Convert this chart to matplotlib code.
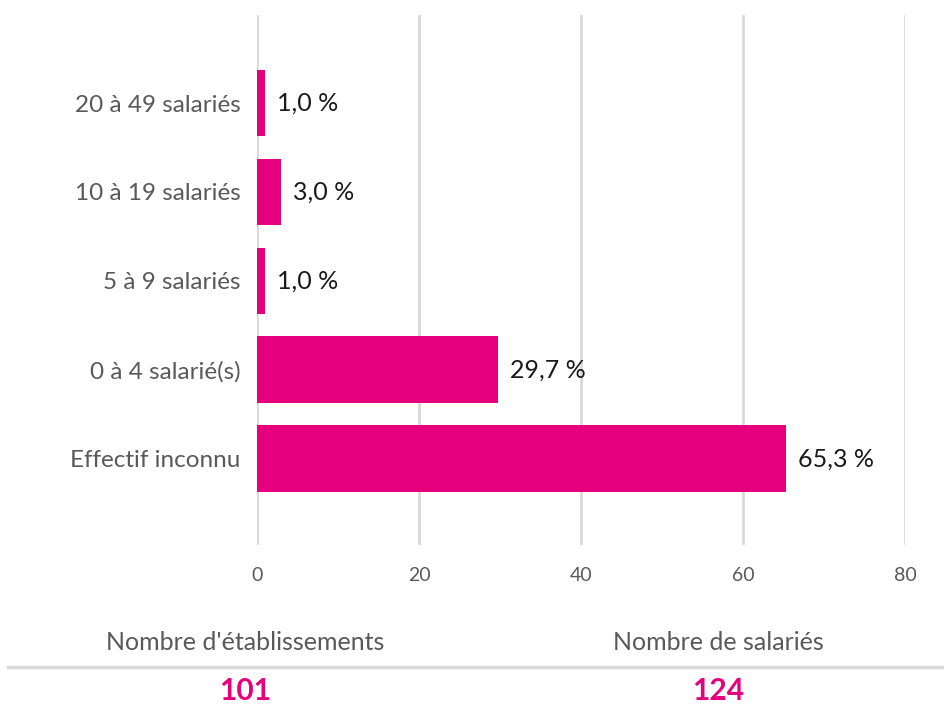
import matplotlib.pyplot as plt
from matplotlib.lines import Line2D

# ── Data ──────────────────────────────────────────────────────────────────
categories = ["Effectif inconnu", "0 à 4 salarié(s)", "5 à 9 salariés",
              "10 à 19 salariés", "20 à 49 salariés"]
shares     = [65.3, 29.7, 1.0, 3.0, 1.0]
x_ticks    = [0, 20, 40, 60, 80]

footer_labels = ["Nombre d'établissements", "Nombre de salariés"]
footer_values = ["101", "124"]

# ── Style ─────────────────────────────────────────────────────────────────
MAGENTA = "#e6007e"
GRID    = "#d9d9d9"
GREY    = "#595959"
plt.rcParams["font.family"] = ["Lato", "DejaVu Sans"]

fig = plt.figure(figsize=(9.44, 7.05), dpi=100)
ax = fig.add_axes([0.2722, 0.227, 0.6865, 0.7517])

ypos = list(range(len(categories)))
ax.barh(ypos, shares, height=0.75, color=MAGENTA, zorder=3)

for y, v in zip(ypos, shares):
    ax.text(v + 1.5, y, f"{v:.1f} %".replace(".", ","), va="center",
            ha="left", fontsize=18, color="#1a1a1a")

ax.set_xlim(0, 80)
ax.set_ylim(-0.97, 4.99)
ax.set_yticks(ypos)
ax.set_yticklabels(categories, fontsize=17.5, color=GREY)
ax.set_xticks(x_ticks)
ax.set_xticklabels([str(t) for t in x_ticks], fontsize=14, color=GREY)
ax.tick_params(axis="both", length=0)
ax.tick_params(axis="y", pad=12)
ax.tick_params(axis="x", pad=16)
ax.xaxis.grid(True, color=GRID, linewidth=2, zorder=0)
for s in ax.spines.values():
    s.set_visible(False)

# ── Footer ────────────────────────────────────────────────────────────────
fx = [245 / 944, 718 / 944]
for x, lab, val in zip(fx, footer_labels, footer_values):
    fig.text(x, 1 - 643 / 705, lab, ha="center", va="center",
             fontsize=18, color=GREY)
    fig.text(x, 1 - 691 / 705, val, ha="center", va="center",
             fontsize=21.5, fontweight="bold", color=MAGENTA)
fig.add_artist(Line2D([8 / 944, 1.0], [1 - 667 / 705] * 2,
                      transform=fig.transFigure, color=GRID, linewidth=2.5))

fig.savefig("out.png", dpi=100)
